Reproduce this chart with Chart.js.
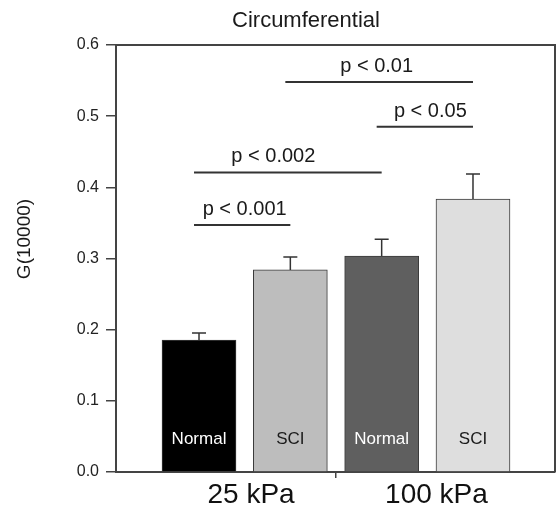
<!DOCTYPE html>
<html><head><meta charset="utf-8">
<script src="https://cdn.jsdelivr.net/npm/chart.js@4"></script>
<style>html,body{margin:0;padding:0;background:#fff}#wrap{width:557px;height:509px}</style>
</head><body><div id="wrap"><canvas id="c" width="557" height="509"></canvas></div>
<script>
const groups = ['Normal', 'SCI', 'Normal', 'SCI'];
const values = [0.1855, 0.284, 0.3035, 0.3836];
const errors = [0.0098, 0.018, 0.0235, 0.035];
const pressureLabels = ['25 kPa', '100 kPa'];
const yTickLabels = ['0.0', '0.1', '0.2', '0.3', '0.4', '0.5', '0.6'];
const sigLabels = ['p < 0.001', 'p < 0.002', 'p < 0.05', 'p < 0.01'];
const sigFrom = [0, 0, 2, 1];
const sigTo = [1, 2, 3, 3];
const sigLevel = [0.347, 0.421, 0.485, 0.548];
const titleText = 'Circumferential';
const yTitle = 'G(10000)';

const FONT = '"Liberation Sans", Arial, Helvetica, sans-serif';
const barColors = ['#000000', '#bdbdbd', '#5f5f5f', '#dedede'];
const labelColors = ['#ffffff', '#1a1a1a', '#ffffff', '#1a1a1a'];
const sigDx = [0, -17, 3, -5];

const extras = {
  id: 'extras',
  afterDatasetsDraw(chart) {
    const ctx = chart.ctx, a = chart.chartArea;
    const xs = chart.scales.x, ys = chart.scales.y;
    ctx.save();
    // box top and right
    ctx.strokeStyle = '#444';
    ctx.lineWidth = 2;
    ctx.beginPath();
    ctx.moveTo(a.left, a.top); ctx.lineTo(a.right, a.top); ctx.lineTo(a.right, a.bottom);
    ctx.stroke();
    // error bars
    ctx.strokeStyle = '#333';
    ctx.lineWidth = 1.5;
    values.forEach((v, i) => {
      const x = xs.getPixelForValue(i);
      const y0 = ys.getPixelForValue(v), y1 = ys.getPixelForValue(v + errors[i]);
      ctx.beginPath();
      ctx.moveTo(x, y0); ctx.lineTo(x, y1);
      ctx.moveTo(x - 7, y1); ctx.lineTo(x + 7, y1);
      ctx.stroke();
    });
    // bar labels
    ctx.font = '17px ' + FONT;
    ctx.textAlign = 'center';
    ctx.textBaseline = 'middle';
    groups.forEach((g, i) => {
      ctx.fillStyle = labelColors[i];
      ctx.fillText(g, xs.getPixelForValue(i), a.bottom - 33);
    });
    // significance
    ctx.strokeStyle = '#333';
    ctx.lineWidth = 2;
    ctx.fillStyle = '#1a1a1a';
    ctx.font = '20px ' + FONT;
    ctx.textBaseline = 'alphabetic';
    sigLabels.forEach((t, i) => {
      const x0 = xs.getPixelForValue(sigFrom[i]) - 5;
      const x1 = xs.getPixelForValue(sigTo[i]);
      const y = ys.getPixelForValue(sigLevel[i]);
      ctx.beginPath(); ctx.moveTo(x0, y); ctx.lineTo(x1, y); ctx.stroke();
      const xm = xs.getPixelForValue((sigFrom[i] + sigTo[i]) / 2) + sigDx[i];
      ctx.fillText(t, xm, y - 10);
    });
    // title
    ctx.font = '22px ' + FONT;
    ctx.textBaseline = 'middle';
    ctx.fillText(titleText, 306, 21);
    // y title
    ctx.font = '19px ' + FONT;
    ctx.translate(25, 239);
    ctx.rotate(-Math.PI / 2);
    ctx.fillText(yTitle, 0, 0);
    ctx.restore();
  }
};

new Chart(document.getElementById('c'), {
  type: 'bar',
  data: {
    datasets: [{
      data: values.map((v, i) => ({ x: i, y: v })),
      backgroundColor: barColors,
      borderColor: '#3a3a3a',
      borderWidth: 1,
      barThickness: 74
    }]
  },
  options: {
    responsive: false,
    animation: false,
    layout: { padding: { top: 45, right: 2, left: 0, bottom: 0 } },
    plugins: { legend: { display: false }, tooltip: { enabled: false }, title: { display: false } },
    scales: {
      x: {
        type: 'linear',
        offset: false,
        min: -0.909,
        max: 3.898,
        afterFit(s) { s.height = 37; },
        afterBuildTicks(s) { s.ticks = [{ value: 0.57 }, { value: 1.5 }, { value: 2.6 }]; },
        ticks: {
          autoSkip: false,
          maxRotation: 0,
          padding: 3,
          color: '#111',
          font: { family: FONT, size: 28, lineHeight: 1 },
          callback: (v, i) => (i === 0 ? pressureLabels[0] : i === 2 ? pressureLabels[1] : '')
        },
        grid: {
          offset: false,
          drawOnChartArea: false,
          drawTicks: true,
          tickLength: 6,
          lineWidth: 1.5,
          color: (c) => (c.tick && c.tick.value === 1.5 ? '#444' : 'rgba(0,0,0,0)')
        },
        border: { color: '#444', width: 2 }
      },
      y: {
        min: 0,
        max: 0.6,
        afterFit(s) { s.width = 116; },
        ticks: {
          stepSize: 0.1,
          padding: 7,
          color: '#222',
          font: { family: FONT, size: 16 },
          callback: (v, i) => yTickLabels[i]
        },
        grid: { drawOnChartArea: false, tickLength: 10, lineWidth: 1.5, color: '#444' },
        border: { color: '#444', width: 2 }
      }
    }
  },
  plugins: [extras]
});
</script>
</body></html>
